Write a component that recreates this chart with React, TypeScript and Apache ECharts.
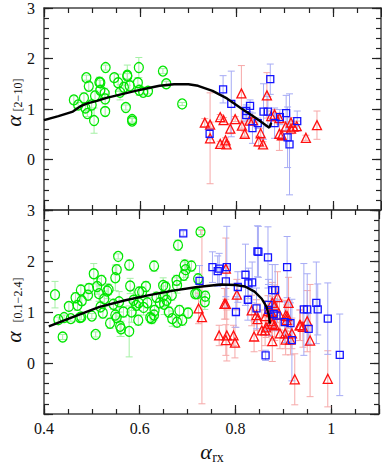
import React, { useEffect, useRef } from "react";
import * as echarts from "echarts";

// [alpha_rx, alpha, error]
const topGreen = [
  [0.462, 1.18, 0.08], [0.471, 1.08, 0.05], [0.483, 1.22, 0.1], [0.488, 1.62, 0.05], [0.493, 1.45, 0.08],
  [0.486, 1.02, 0.08], [0.49, 0.91, 0.06], [0.499, 1.08, 0.1], [0.504, 0.77, 0.25], [0.506, 1.26, 0.1],
  [0.515, 1.53, 0.1], [0.517, 1.52, 0.05], [0.517, 1.37, 0.08], [0.526, 1.31, 0.1], [0.527, 1.2, 0.1],
  [0.527, 0.95, 0.08], [0.528, 1.82, 0.05], [0.546, 1.62, 0.08], [0.554, 1.52, 0.17], [0.558, 1.33, 0.15],
  [0.57, 1.03, 0.05], [0.566, 1.43, 0.1], [0.573, 1.67, 0.2], [0.573, 1.65, 0.05], [0.578, 1.46, 0.1],
  [0.583, 0.79, 0.05], [0.583, 0.76, 0.05], [0.595, 1.52, 0.1], [0.597, 1.82, 0.2], [0.598, 1.37, 0.1],
  [0.606, 1.33, 0.05], [0.616, 1.35, 0.05], [0.647, 1.75, 0.05], [0.654, 1.5, 0.05], [0.687, 1.1, 0.03],
];
const topBlue = [
  [0.772, 1.39, 0.27], [0.789, 1.1, 0.65], [0.744, 0.51, 0.1], [0.82, 0.96, 0.12], [0.82, 0.88, 0.12],
  [0.828, 1.06, 0.12], [0.833, 0.62, 0.3], [0.844, 0.72, 0.1], [0.856, 0.95, 0.55], [0.865, 0.95, 0.3],
  [0.87, 1.59, 0.3], [0.879, 0.72, 0.3], [0.89, 0.84, 0.15], [0.903, 0.92, 0.35], [0.906, 0.44, 0.6],
  [0.91, 0.3, 1.0], [0.926, 0.76, 0.2],
];
const topRed = [
  [0.734, 0.73, 0.08], [0.745, 0.69, 0.05], [0.745, 0.42, 0.9], [0.766, 0.84, 0.05], [0.773, 0.78, 0.05],
  [0.766, 0.31, 0.05], [0.777, 0.38, 0.05], [0.779, 0.3, 0.05], [0.787, 0.61, 0.1], [0.797, 0.8, 0.05],
  [0.81, 1.31, 0.55], [0.811, 0.67, 0.05], [0.817, 0.51, 0.05], [0.827, 0.77, 0.05], [0.834, 0.78, 0.05],
  [0.85, 0.52, 0.1], [0.846, 0.36, 0.1], [0.855, 0.3, 0.05], [0.863, 1.27, 0.45], [0.872, 0.86, 0.1],
  [0.879, 0.89, 0.1], [0.889, 0.82, 0.1], [0.889, 0.51, 0.33], [0.894, 0.48, 0.1], [0.902, 0.65, 0.1],
  [0.913, 0.73, 0.1], [0.913, 0.61, 0.1], [0.918, 0.65, 0.1], [0.925, 0.66, 0.1], [0.944, 0.43, 0.05],
  [0.967, 0.68, 0.28],
];
const bottomGreen = [
  [0.423, 1.34, 0.26], [0.43, 0.85, 0.05], [0.439, 0.51, 0.05], [0.442, 0.89, 0.05], [0.452, 1.11, 0.08],
  [0.456, 0.87, 0.05], [0.466, 1.28, 0.1], [0.47, 1.13, 0.1], [0.475, 0.89, 0.08], [0.478, 0.9, 0.05],
  [0.477, 1.43, 0.1], [0.479, 1.22, 0.08], [0.492, 1.33, 0.1], [0.494, 1.46, 0.1], [0.5, 0.92, 0.05],
  [0.504, 1.75, 0.2], [0.508, 0.56, 0.05], [0.511, 1.5, 0.15], [0.515, 1.36, 0.15], [0.52, 1.62, 0.1],
  [0.518, 1.1, 0.1], [0.523, 0.98, 0.1], [0.526, 1.26, 0.15], [0.532, 1.41, 0.15], [0.535, 1.44, 0.1],
  [0.538, 0.78, 0.1], [0.545, 1.15, 0.1], [0.549, 1.67, 0.25], [0.552, 1.83, 0.1], [0.549, 0.94, 0.1],
  [0.552, 0.89, 0.1], [0.555, 2.09, 0.05], [0.557, 1.2, 0.2], [0.559, 0.72, 0.2], [0.561, 0.67, 0.15],
  [0.566, 1.0, 0.1], [0.578, 1.92, 0.1], [0.578, 0.62, 0.5], [0.58, 1.51, 0.15], [0.583, 1.0, 0.2],
  [0.587, 1.23, 0.2], [0.593, 1.13, 0.2], [0.598, 1.18, 0.15], [0.599, 1.39, 0.1], [0.605, 1.39, 0.1],
  [0.597, 0.84, 0.1], [0.613, 1.5, 0.1], [0.608, 1.09, 0.15], [0.622, 0.89, 0.1], [0.625, 0.87, 0.1],
  [0.63, 1.9, 0.1], [0.631, 1.03, 0.1], [0.635, 1.29, 0.1], [0.616, 1.18, 0.1], [0.649, 1.52, 0.15],
  [0.654, 1.49, 0.1], [0.649, 1.31, 0.2], [0.651, 1.15, 0.2], [0.661, 1.0, 0.1], [0.668, 0.87, 0.15],
  [0.678, 0.8, 0.1], [0.689, 0.84, 0.1], [0.701, 0.98, 0.1], [0.667, 1.33, 0.1], [0.677, 1.62, 0.1],
  [0.678, 1.52, 0.15], [0.68, 2.31, 0.1], [0.694, 1.92, 0.1], [0.708, 1.9, 0.1], [0.696, 1.83, 0.15],
  [0.692, 1.72, 0.1], [0.716, 1.36, 0.1], [0.722, 1.65, 0.1], [0.727, 2.57, 0.05], [0.737, 1.31, 0.1],
  [0.736, 1.2, 0.15], [0.63, 0.94, 0.1], [0.642, 1.18, 0.1], [0.656, 1.23, 0.1], [0.683, 1.03, 0.1],
  [0.72, 1.36, 0.1],
];
const bottomBlue = [
  [0.691, 2.54, 0.05], [0.752, 1.88, 0.3], [0.763, 1.8, 0.3], [0.766, 1.85, 0.3], [0.782, 1.88, 0.8],
  [0.725, 1.61, 0.3], [0.78, 1.6, 0.3], [0.801, 1.0, 0.3], [0.805, 1.49, 0.3], [0.821, 1.73, 0.6],
  [0.826, 1.24, 0.4], [0.827, 1.56, 0.3], [0.835, 1.58, 0.4], [0.846, 2.19, 0.5], [0.848, 2.18, 0.5],
  [0.868, 2.07, 0.6], [0.844, 1.07, 0.4], [0.863, 0.15, 0.1], [0.869, 1.14, 0.5], [0.869, 1.04, 0.5],
  [0.877, 1.43, 0.5], [0.883, 1.43, 0.5], [0.908, 1.88, 0.6], [0.903, 0.8, 0.4], [0.915, 0.78, 0.4],
  [0.918, 0.45, 0.8], [0.943, 1.05, 0.9], [0.95, 1.05, 0.7], [0.953, 0.67, 0.3], [0.969, 1.18, 0.8],
  [0.972, 1.05, 0.5], [0.993, 0.87, 0.7], [1.018, 0.16, 0.8], [0.88, 0.96, 0.3], [0.886, 0.93, 0.3],
];
const bottomRed = [
  [0.723, 1.07, 0.3], [0.73, 0.9, 1.7], [0.78, 1.85, 0.6], [0.777, 1.16, 0.3], [0.78, 1.16, 0.3],
  [0.803, 1.34, 0.3], [0.766, 0.54, 0.2], [0.782, 0.54, 0.5], [0.78, 0.45, 0.3], [0.796, 0.54, 0.2],
  [0.799, 0.4, 0.3], [0.834, 1.03, 0.3], [0.844, 0.94, 0.3], [0.846, 0.86, 0.3], [0.839, 0.52, 0.3],
  [0.855, 0.64, 0.4], [0.862, 0.64, 0.3], [0.877, 0.43, 0.4], [0.888, 1.29, 0.5], [0.877, 1.18, 0.4],
  [0.882, 1.13, 0.4], [0.911, 1.18, 0.5], [0.863, 0.92, 0.3], [0.875, 1.0, 0.3], [0.875, 0.82, 0.3],
  [0.877, 0.77, 0.3], [0.882, 0.74, 0.3], [0.868, 1.02, 0.3], [0.864, 0.7, 0.2], [0.892, 0.95, 0.3],
  [0.905, 0.93, 0.3], [0.908, 0.92, 0.3], [0.907, 0.84, 0.3], [0.893, 0.58, 0.3], [0.904, 0.58, 0.3],
  [0.918, 0.58, 0.3], [0.905, 0.46, 0.3], [0.915, 0.46, 0.3], [0.924, -0.32, 0.5], [0.934, 0.74, 0.3],
  [0.941, 0.71, 0.4], [0.95, 0.82, 0.6], [0.956, 0.44, 1.1], [0.993, -0.31, 0.55], [0.936, 0.74, 0.3],
];
const topCurve = [
  [0.4, 0.78], [0.43, 0.86], [0.46, 0.95], [0.475, 1.05], [0.49, 1.11], [0.51, 1.16], [0.53, 1.22],
  [0.56, 1.29], [0.59, 1.36], [0.62, 1.42], [0.64, 1.46], [0.67, 1.49], [0.7, 1.49], [0.72, 1.46],
  [0.75, 1.36], [0.78, 1.21], [0.81, 1.01], [0.84, 0.82], [0.868, 0.63], [0.872, 0.73],
];
const bottomCurve = [
  [0.41, 0.72], [0.46, 0.9], [0.516, 1.1], [0.57, 1.23], [0.62, 1.33], [0.67, 1.42], [0.72, 1.49],
  [0.77, 1.54], [0.8, 1.53], [0.82, 1.5], [0.84, 1.4], [0.855, 1.26], [0.865, 1.1], [0.87, 0.94],
  [0.872, 0.77],
];
const xRange = [0.4, 1.1];
const yRange = [-1, 3];

const GREEN = "#00e600";
const BLUE = "#1414ff";
const RED = "#ff1010";
const LGREEN = "#a4f0a4";
const LBLUE = "#a6abf5";
const LRED = "#f6a8a8";
const FONT = "Liberation Serif";

function xAxes(g: number, withLabels: boolean) {
  const base = {
    gridIndex: g, type: "value", min: xRange[0], max: xRange[1], splitLine: { show: false },
  };
  const mk = (pos: string, interval: number, len: number, major: boolean) => ({
    ...base,
    position: pos,
    interval,
    axisLine: { show: major, onZero: false, lineStyle: { color: "#444", width: 1.5 } },
    axisTick: { show: true, inside: true, length: len, lineStyle: { color: "#222", width: 1.2 } },
    axisLabel: {
      show: major && withLabels && pos === "bottom",
      margin: 6,
      fontFamily: FONT,
      fontSize: 16,
      color: "#111",
      formatter: (v: number) => (v > 1.05 ? "" : String(+v.toFixed(1))),
    },
  });
  return [mk("bottom", 0.2, 9, true), mk("bottom", 0.05, 5, false), mk("top", 0.2, 9, true), mk("top", 0.05, 5, false)];
}

function yAxes(g: number) {
  const base = {
    gridIndex: g, type: "value", min: yRange[0], max: yRange[1], splitLine: { show: false },
  };
  const mk = (pos: string, interval: number, len: number, major: boolean) => ({
    ...base,
    position: pos,
    interval,
    axisLine: { show: major, onZero: false, lineStyle: { color: "#444", width: 1.5 } },
    axisTick: { show: true, inside: true, length: len, lineStyle: { color: "#222", width: 1.2 } },
    axisLabel: {
      show: major && pos === "left",
      margin: 9,
      fontFamily: FONT,
      fontSize: 16,
      color: "#111",
      formatter: (v: number) => (v < -0.5 ? "" : String(v)),
    },
  });
  return [mk("left", 1, 9, true), mk("left", 0.2, 5, false), mk("right", 1, 9, true), mk("right", 0.2, 5, false)];
}

function errSeries(data: number[][], color: string, ai: number) {
  return {
    type: "custom",
    xAxisIndex: ai,
    yAxisIndex: ai,
    data,
    clip: true,
    silent: true,
    z: 1,
    encode: { x: 0, y: 1 },
    renderItem: (params: any, api: any) => {
      const x = api.value(0);
      const y = api.value(1);
      const e = api.value(2);
      const t = api.coord([x, y + e]);
      const b = api.coord([x, y - e]);
      const h = 3.5;
      const st = { stroke: color, lineWidth: 1 };
      return {
        type: "group",
        children: [
          { type: "line", shape: { x1: t[0], y1: t[1], x2: b[0], y2: b[1] }, style: st },
          { type: "line", shape: { x1: t[0] - h, y1: t[1], x2: t[0] + h, y2: t[1] }, style: st },
          { type: "line", shape: { x1: b[0] - h, y1: b[1], x2: b[0] + h, y2: b[1] }, style: st },
        ],
      };
    },
  };
}

function scatter(data: number[][], color: string, symbol: string, size: any, ai: number) {
  return {
    type: "scatter",
    xAxisIndex: ai,
    yAxisIndex: ai,
    data: data.map((d) => [d[0], d[1]]),
    symbol,
    symbolSize: size,
    z: 3,
    itemStyle: { color: "rgba(0,0,0,0)", borderColor: color, borderWidth: 1.3, opacity: 1 },
  };
}

function curve(data: number[][], ai: number) {
  return {
    type: "line",
    xAxisIndex: ai,
    yAxisIndex: ai,
    data,
    showSymbol: false,
    z: 4,
    lineStyle: { color: "#000", width: 2.4 },
  };
}

export default function App() {
  const ref = useRef<HTMLDivElement>(null);
  useEffect(() => {
    if (!ref.current) return;
    const chart = echarts.init(ref.current, null, { renderer: "svg" });
    const option: any = {
      animation: false,
      backgroundColor: "#fff",
      grid: [
        { left: 44, top: 7, width: 337, height: 203 },
        { left: 44, top: 210, width: 337, height: 204 },
      ],
      xAxis: [...xAxes(0, false), ...xAxes(1, true)],
      yAxis: [...yAxes(0), ...yAxes(1)],
      series: [
        errSeries(topGreen, LGREEN, 0),
        errSeries(topRed, LRED, 0),
        errSeries(topBlue, LBLUE, 0),
        errSeries(bottomGreen, LGREEN, 4),
        errSeries(bottomRed, LRED, 4),
        errSeries(bottomBlue, LBLUE, 4),
        scatter(topGreen, GREEN, "circle", [9, 10], 0),
        scatter(topRed, RED, "triangle", [9, 9], 0),
        scatter(topBlue, BLUE, "rect", 7, 0),
        scatter(bottomGreen, GREEN, "circle", [9, 10], 4),
        scatter(bottomRed, RED, "triangle", [9, 9], 4),
        scatter(bottomBlue, BLUE, "rect", 7, 4),
        curve(topCurve, 0),
        curve(bottomCurve, 4),
      ],
      graphic: [
        {
          type: "text", x: 13, y: 121, rotation: Math.PI / 2,
          style: { text: "α", font: `italic 22px ${FONT}`, fill: "#111", textAlign: "center", textVerticalAlign: "middle" },
        },
        {
          type: "text", x: 18, y: 95, rotation: Math.PI / 2,
          style: { text: "[2−10]", font: `12px ${FONT}`, fill: "#111", textAlign: "center", textVerticalAlign: "middle" },
        },
        {
          type: "text", x: 13, y: 337, rotation: Math.PI / 2,
          style: { text: "α", font: `italic 22px ${FONT}`, fill: "#111", textAlign: "center", textVerticalAlign: "middle" },
        },
        {
          type: "text", x: 18, y: 300, rotation: Math.PI / 2,
          style: { text: "[0.1−2.4]", font: `12px ${FONT}`, fill: "#111", textAlign: "center", textVerticalAlign: "middle" },
        },
        {
          type: "text", x: 206, y: 451,
          style: { text: "α", font: `italic 22px ${FONT}`, fill: "#111", textAlign: "center", textVerticalAlign: "middle" },
        },
        {
          type: "text", x: 218, y: 457,
          style: { text: "rx", font: `14px ${FONT}`, fill: "#111", textAlign: "center", textVerticalAlign: "middle" },
        },
      ],
    };
    chart.setOption(option);
    return () => chart.dispose();
  }, []);
  return (
    <div
      ref={ref}
      style={{ position: "absolute", left: 0, top: 0, width: 382, height: 464, background: "#fff" }}
    />
  );
}
